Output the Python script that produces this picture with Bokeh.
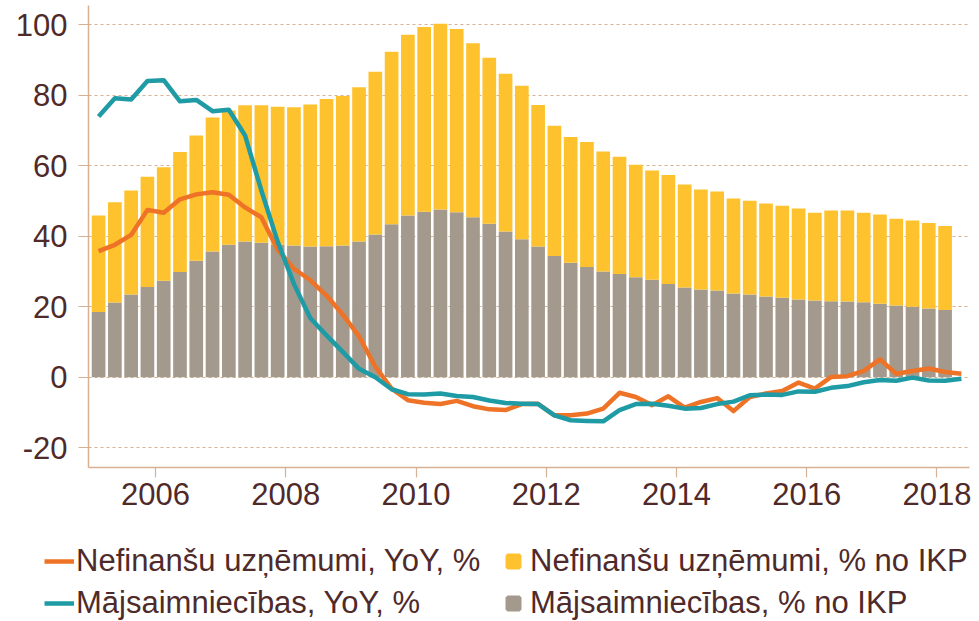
from bokeh.plotting import figure
from bokeh.models import Range1d, FixedTicker, Legend, ColumnDataSource
from bokeh.layouts import column
from bokeh.embed import file_html
from bokeh.resources import INLINE

# Quarters 2005Q1 .. 2018Q2
quarters = [f"{y}Q{q}" for y in range(2005, 2019) for q in range(1, 5)][:54]

# Households, % of GDP (bars, 2005Q1..2018Q1)
hh_gdp = [18.5, 21.2, 23.5, 25.6, 27.4, 29.9, 33.1, 35.7, 37.6, 38.5,
          38.2, 37.6, 37.4, 37.1, 37.2, 37.4, 38.5, 40.5, 43.4, 45.9,
          47.0, 47.6, 46.8, 45.4, 43.6, 41.4, 39.2, 37.1, 34.4, 32.5,
          31.3, 30.0, 29.3, 28.4, 27.7, 26.5, 25.5, 24.9, 24.6, 23.8,
          23.5, 22.9, 22.6, 22.1, 21.8, 21.6, 21.5, 21.3, 20.9, 20.4,
          20.0, 19.5, 19.1]

# Non-financial corporations, % of GDP (stacked on top of households)
nfc_gdp = [27.4, 28.5, 29.5, 31.3, 32.2, 34.0, 35.5, 38.0, 38.1, 38.7,
           39.0, 39.2, 39.2, 40.3, 41.8, 42.4, 43.8, 46.2, 49.0, 51.3,
           52.4, 52.7, 52.0, 49.4, 47.1, 44.7, 43.5, 40.2, 37.0, 35.7,
           35.5, 34.1, 33.3, 31.9, 31.0, 30.9, 29.2, 28.4, 28.1, 26.9,
           26.6, 26.4, 26.1, 25.8, 24.9, 25.7, 25.8, 25.4, 25.3, 24.6,
           24.5, 24.3, 23.8]

# Non-financial corporations, YoY % (2005Q1..2018Q2)
nfc_yoy = [35.8, 37.6, 40.4, 47.5, 46.7, 50.5, 51.9, 52.5, 51.8, 48.2,
           45.4, 36.2, 30.8, 27.6, 23.2, 17.8, 11.6, 3.0, -3.2, -6.5,
           -7.2, -7.6, -6.7, -8.2, -9.1, -9.3, -7.6, -7.5, -10.8, -10.8,
           -10.3, -8.9, -4.4, -5.6, -7.9, -5.4, -8.6, -7.0, -5.9, -9.6,
           -5.6, -4.6, -3.9, -1.5, -3.2, 0.1, 0.3, 1.8, 5.1, 1.0,
           1.8, 2.5, 1.5, 1.0]

# Households, YoY % (2005Q1..2018Q2)
hh_yoy = [74.0, 79.2, 78.8, 84.1, 84.3, 78.3, 78.7, 75.5, 75.9, 68.6,
          53.0, 38.5, 26.5, 16.8, 11.9, 7.2, 2.4, 0.0, -3.4, -4.8,
          -4.9, -4.6, -5.3, -5.6, -6.6, -7.3, -7.5, -7.6, -10.8, -12.2,
          -12.4, -12.5, -9.3, -7.6, -7.5, -8.1, -8.9, -8.7, -7.6, -6.9,
          -5.1, -4.9, -5.0, -4.0, -4.1, -3.0, -2.5, -1.4, -0.8, -1.0,
          -0.1, -0.9, -1.0, -0.4]

year_ticks = [2006, 2008, 2010, 2012, 2014, 2016, 2018]
y_ticks = [-20, 0, 20, 40, 60, 80, 100]

labels = {
    "nfc_yoy": "Nefinanšu uzņēmumi, YoY, %",
    "hh_yoy": "Mājsaimniecības, YoY, %",
    "nfc_gdp": "Nefinanšu uzņēmumi, % no IKP",
    "hh_gdp": "Mājsaimniecības, % no IKP",
}

ORANGE = "#ee7326"
TEAL = "#1e9ba5"
YELLOW = "#fdc22e"
GRAY = "#a39a8d"
TAN = "#d6b193"
TXT = "#4f2a2a"
FONT = "Liberation Sans"


def qpos(label):
    y, q = label.split("Q")
    return int(y) + (int(q) - 0.5) / 4.0


x_all = [qpos(q) for q in quarters]
x_bars = x_all[:len(hh_gdp)]

bar_src = ColumnDataSource(dict(x=x_bars, hh=hh_gdp, nfc=nfc_gdp))

p = figure(width=979, height=525, output_backend="svg", toolbar_location=None,
           x_range=Range1d(2004.97, 2018.5), y_range=Range1d(-25.6, 105.5),
           min_border_left=88, min_border_right=10, min_border_top=5,
           min_border_bottom=58)
p.outline_line_color = None
p.frame_align = False

bars = p.vbar_stack(["hh", "nfc"], x="x", width=0.21, source=bar_src,
                    color=[GRAY, YELLOW], line_color=None)

r_nfc = p.line(x_all, nfc_yoy, line_color=ORANGE, line_width=4.5, line_join="round")
r_hh = p.line(x_all, hh_yoy, line_color=TEAL, line_width=4.5, line_join="round")

# axes
for ax in (p.xaxis[0], p.yaxis[0]):
    ax.axis_line_color = TAN
    ax.axis_line_width = 1.5
    ax.major_tick_line_color = TAN
    ax.major_tick_line_width = 1.2
    ax.major_tick_out = 10
    ax.major_tick_in = 0
    ax.minor_tick_line_color = None
    ax.major_label_text_color = TXT
    ax.major_label_text_font = FONT
    ax.major_label_text_font_size = "31px"

p.xaxis.ticker = FixedTicker(ticks=year_ticks)
p.xaxis.major_label_standoff = 5
p.yaxis.ticker = FixedTicker(ticks=y_ticks)
p.yaxis.major_label_standoff = 11
p.yaxis.major_label_overrides = {t: str(t) for t in y_ticks}

p.xgrid.grid_line_color = None
p.ygrid.grid_line_color = TAN
p.ygrid.grid_line_dash = "3 3"
p.ygrid.grid_line_width = 1

# ---- legend strip below the chart ----
lg = figure(width=979, height=96, output_backend="svg", toolbar_location=None,
            x_range=Range1d(0, 1), y_range=Range1d(0, 1),
            x_axis_type=None, y_axis_type=None,
            min_border_left=0, min_border_right=0, min_border_top=0,
            min_border_bottom=0, outline_line_color=None)
lg.frame_align = False
lg.grid.visible = False
# legend proxies (same series; they fall outside this strip's ranges)
l_nfc = lg.line(x_all, nfc_yoy, line_color=ORANGE, line_width=4.5)
l_hh = lg.line(x_all, hh_yoy, line_color=TEAL, line_width=4.5)
s_nfc = lg.scatter(x_bars, nfc_gdp, marker="square", size=12, fill_color=YELLOW,
                   line_color=YELLOW, line_width=4)
s_hh = lg.scatter(x_bars, hh_gdp, marker="square", size=12, fill_color=GRAY,
                  line_color=GRAY, line_width=4)

legend = Legend(items=[(labels["nfc_yoy"], [l_nfc]), (labels["hh_yoy"], [l_hh]),
                       (labels["nfc_gdp"], [s_nfc]), (labels["hh_gdp"], [s_hh])],
                orientation="vertical", ncols=2,
                location=(44, 0), glyph_width=30, glyph_height=36,
                spacing=6, padding=0, margin=0, label_standoff=2,
                label_width=416,
                border_line_color=None, background_fill_alpha=0,
                label_text_font=FONT, label_text_font_size="31px",
                label_text_color=TXT)
lg.add_layout(legend)

open("out.html", "w").write(file_html(column(p, lg), INLINE))
